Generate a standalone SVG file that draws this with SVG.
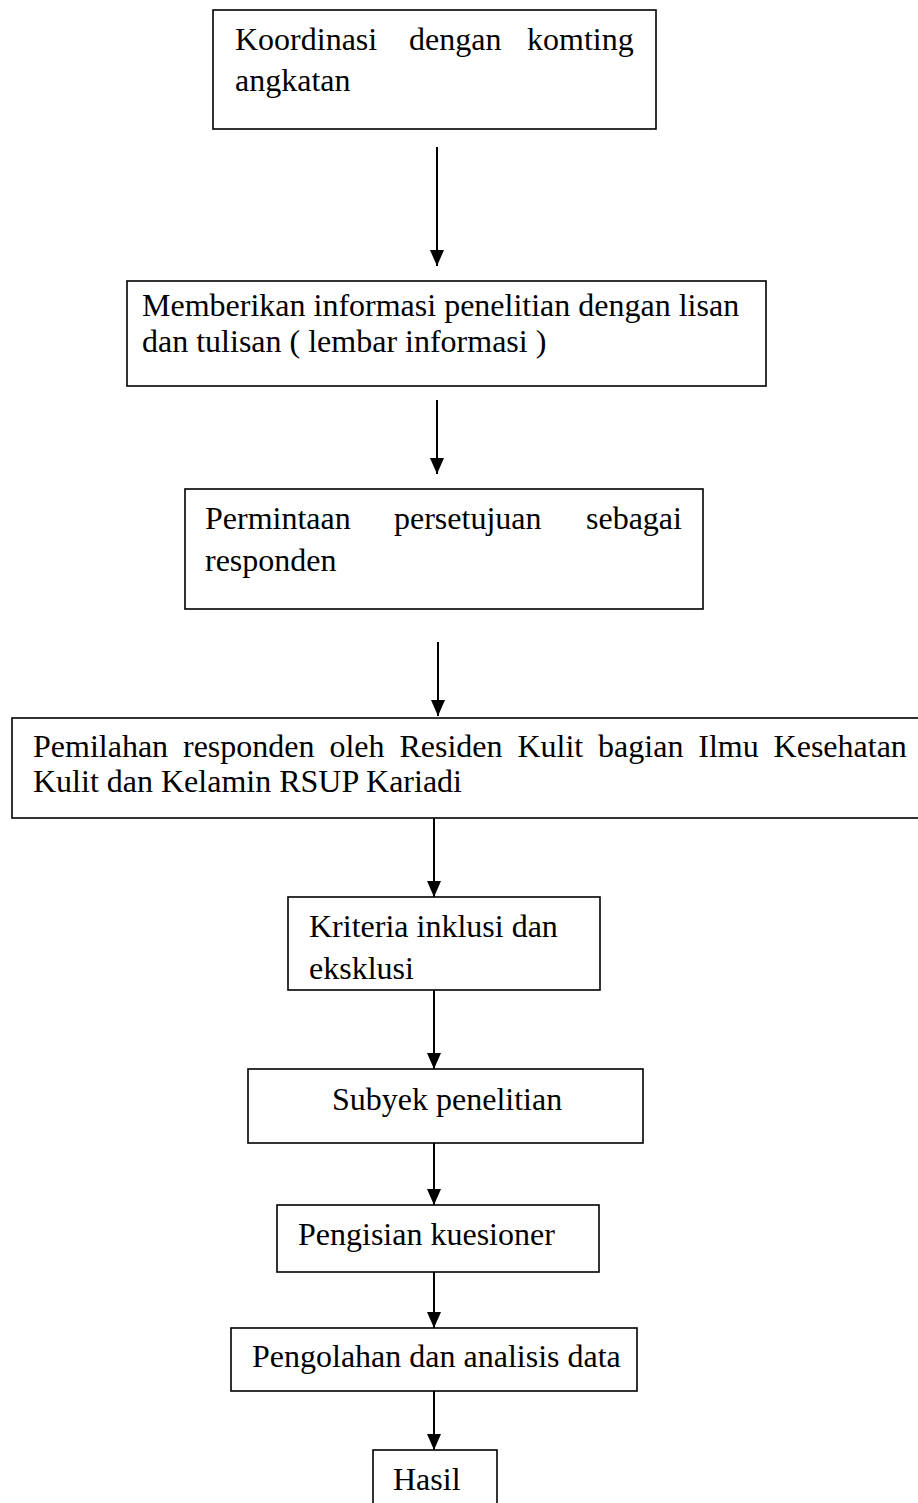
<svg xmlns="http://www.w3.org/2000/svg" width="918" height="1503" viewBox="0 0 918 1503">
<style>
.box{fill:#fff;stroke:#000;stroke-width:1.6}
.t{font-family:"Liberation Serif","Times New Roman",serif;font-size:32px;fill:#000}
.c{stroke:#000;stroke-width:2;fill:none}
</style>
<defs>
<marker id="ah" markerUnits="userSpaceOnUse" markerWidth="16" markerHeight="18" refX="16" refY="7" orient="auto" viewBox="0 0 16 14">
<path d="M0,0 L16,7 L0,14 Z" fill="#000"/>
</marker>
</defs>
<rect width="918" height="1503" fill="#fff"/>
<g id="connectors">
<line class="c" x1="437" y1="147" x2="437" y2="266" marker-end="url(#ah)"/>
<line class="c" x1="437" y1="400" x2="437" y2="474" marker-end="url(#ah)"/>
<line class="c" x1="438" y1="642" x2="438" y2="716" marker-end="url(#ah)"/>
<line class="c" x1="434" y1="818" x2="434" y2="897" marker-end="url(#ah)"/>
<line class="c" x1="434" y1="990" x2="434" y2="1069" marker-end="url(#ah)"/>
<line class="c" x1="434" y1="1143" x2="434" y2="1205" marker-end="url(#ah)"/>
<line class="c" x1="434" y1="1272" x2="434" y2="1328" marker-end="url(#ah)"/>
<line class="c" x1="434" y1="1391" x2="434" y2="1450" marker-end="url(#ah)"/>
</g>
<g id="n1">
<rect class="box" x="213" y="10" width="443" height="119"/>
<text class="t" y="50"><tspan x="235">Koordinasi</tspan><tspan x="409">dengan</tspan><tspan x="527">komting</tspan></text>
<text class="t" x="235" y="91">angkatan</text>
</g>
<g id="n2">
<rect class="box" x="127" y="281" width="639" height="105"/>
<text class="t" x="142" y="316">Memberikan informasi penelitian dengan lisan</text>
<text class="t" x="142" y="352">dan tulisan ( lembar informasi )</text>
</g>
<g id="n3">
<rect class="box" x="185" y="489" width="518" height="120"/>
<text class="t" y="529"><tspan x="205">Permintaan</tspan><tspan x="394">persetujuan</tspan><tspan x="586">sebagai</tspan></text>
<text class="t" x="205" y="571">responden</text>
</g>
<g id="n4">
<rect class="box" x="12" y="718" width="920" height="100"/>
<text class="t" y="757"><tspan x="33">Pemilahan</tspan><tspan x="183">responden</tspan><tspan x="329.4">oleh</tspan><tspan x="399.4">Residen</tspan><tspan x="517.4">Kulit</tspan><tspan x="598.1">bagian</tspan><tspan x="698.3">Ilmu</tspan><tspan x="773.6">Kesehatan</tspan></text>
<text class="t" x="33" y="792">Kulit dan Kelamin RSUP Kariadi</text>
</g>
<g id="n5">
<rect class="box" x="288" y="897" width="312" height="93"/>
<text class="t" x="309" y="937">Kriteria inklusi dan</text>
<text class="t" x="309" y="979">eksklusi</text>
</g>
<g id="n6">
<rect class="box" x="248" y="1069" width="395" height="74"/>
<text class="t" x="332" y="1110">Subyek penelitian</text>
</g>
<g id="n7">
<rect class="box" x="277" y="1205" width="322" height="67"/>
<text class="t" x="298" y="1245">Pengisian kuesioner</text>
</g>
<g id="n8">
<rect class="box" x="231" y="1328" width="406" height="63"/>
<text class="t" x="252" y="1367">Pengolahan dan analisis data</text>
</g>
<g id="n9">
<rect class="box" x="373" y="1450" width="124" height="70"/>
<text class="t" x="393" y="1490">Hasil</text>
</g>
</svg>
